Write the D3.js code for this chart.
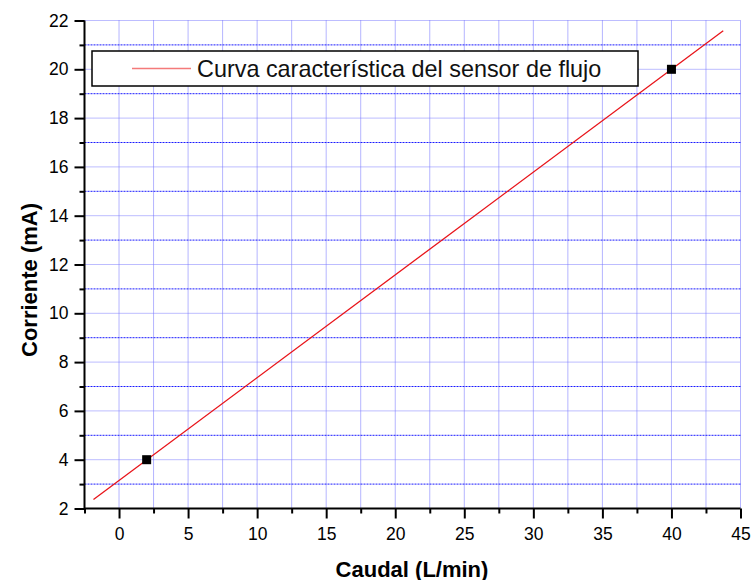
<!DOCTYPE html>
<html>
<head>
<meta charset="utf-8">
<script src="https://cdn.jsdelivr.net/npm/d3@7"></script>
<style>
  body { margin: 0; background: #fff; }
  svg { display: block; font-family: "Liberation Sans", Arial, sans-serif; }
</style>
</head>
<body>
<svg id="chart" width="753" height="580"></svg>
<script>
// Measured points of the flow sensor
const caudal = [2, 40];
const corriente = [4, 20];

// Characteristic line endpoints
const lineX = [-1.85, 43.75];
const lineY = [2.37, 21.58];

// Axis ticks
const xTicks = [0, 5, 10, 15, 20, 25, 30, 35, 40, 45];
const xMinor = [-2.5, 2.5, 7.5, 12.5, 17.5, 22.5, 27.5, 32.5, 37.5, 42.5];
const yTicks = [2, 4, 6, 8, 10, 12, 14, 16, 18, 20, 22];
const yMinor = [3, 5, 7, 9, 11, 13, 15, 17, 19, 21];

const legendLabel = "Curva característica del sensor de flujo";
const xTitle = "Caudal (L/min)";
const yTitle = "Corriente (mA)";

const svg = d3.select("#chart");
const pLeft = 84.5, pRight = 740.5, pTop = 20.5, pBottom = 508.5;

const x = d3.scaleLinear().domain([-2.5, 45]).range([pLeft, pRight]);
const y = d3.scaleLinear().domain([2, 22]).range([pBottom, pTop]);

// Grid
const grid = svg.append("g");
grid.selectAll(".vg").data(xTicks.concat(xMinor)).enter().append("line")
  .attr("x1", d => x(d)).attr("x2", d => x(d))
  .attr("y1", pTop).attr("y2", pBottom)
  .attr("stroke", "#6a6aff").attr("stroke-width", 1)
  .attr("stroke-dasharray", "1,1");
grid.selectAll(".hg").data(yTicks).enter().append("line")
  .attr("x1", pLeft).attr("x2", pRight)
  .attr("y1", d => y(d)).attr("y2", d => y(d))
  .attr("stroke", "#7a7aff").attr("stroke-width", 1)
  .attr("stroke-dasharray", "1,1");
grid.selectAll(".hm").data(yMinor).enter().append("line")
  .attr("x1", pLeft).attr("x2", pRight)
  .attr("y1", d => y(d)).attr("y2", d => y(d))
  .attr("stroke", "#1a1aff").attr("stroke-width", 1)
  .attr("stroke-dasharray", "2,1");

// Fitted line
svg.append("path")
  .datum(d3.zip(lineX, lineY))
  .attr("d", d3.line().x(d => x(d[0])).y(d => y(d[1])))
  .attr("stroke", "#e8141a").attr("stroke-width", 1.3).attr("fill", "none");

// Measured points
svg.selectAll(".pt").data(d3.zip(caudal, corriente)).enter().append("rect")
  .attr("x", d => x(d[0]) - 4.5).attr("y", d => y(d[1]) - 4.5)
  .attr("width", 9).attr("height", 9).attr("fill", "#000");

// Axes
const xAxis = svg.append("g").attr("transform", `translate(0,${pBottom})`)
  .call(d3.axisBottom(x).tickValues(xTicks).tickSize(10).tickPadding(9).tickFormat(d3.format("d")));
const xMin = svg.append("g").attr("transform", `translate(0,${pBottom})`)
  .call(d3.axisBottom(x).tickValues(xMinor).tickSize(5).tickFormat(""));
const yAxis = svg.append("g").attr("transform", `translate(${pLeft},0)`)
  .call(d3.axisLeft(y).tickValues(yTicks).tickSize(10).tickPadding(6).tickFormat(d3.format("d")));
const yMin = svg.append("g").attr("transform", `translate(${pLeft},0)`)
  .call(d3.axisLeft(y).tickValues(yMinor).tickSize(5).tickFormat(""));

[xAxis, xMin, yAxis, yMin].forEach(g => {
  g.select(".domain").attr("stroke", "#000").attr("stroke-width", 2);
  g.selectAll(".tick line").attr("stroke", "#000").attr("stroke-width", 2);
  g.selectAll("text").attr("font-size", 17.5).attr("fill", "#000")
    .attr("font-family", "'Liberation Sans', Arial, sans-serif");
});
xAxis.select(".domain").attr("d", `M${pLeft},0H${pRight}`);
xMin.select(".domain").remove();
yMin.select(".domain").remove();
yAxis.select(".domain").attr("d", `M0,${pTop}V${pBottom + 1}`);

// Axis titles
svg.append("text").attr("x", 412).attr("y", 576.5)
  .attr("text-anchor", "middle").attr("font-size", 22).attr("font-weight", "bold")
  .text(xTitle);
svg.append("text").attr("transform", `translate(37,280) rotate(-90)`)
  .attr("text-anchor", "middle").attr("font-size", 22).attr("font-weight", "bold")
  .text(yTitle);

// Legend
const lg = svg.append("g");
lg.append("rect").attr("x", 92).attr("y", 51).attr("width", 546).attr("height", 35)
  .attr("fill", "#fff").attr("stroke", "#000").attr("stroke-width", 1.5);
lg.append("line").attr("x1", 132).attr("x2", 191).attr("y1", 68.5).attr("y2", 68.5)
  .attr("stroke", "#f47a7a").attr("stroke-width", 1.5);
lg.append("text").attr("x", 197).attr("y", 77).attr("font-size", 23.4).attr("fill", "#111")
  .text(legendLabel);
</script>
</body>
</html>
